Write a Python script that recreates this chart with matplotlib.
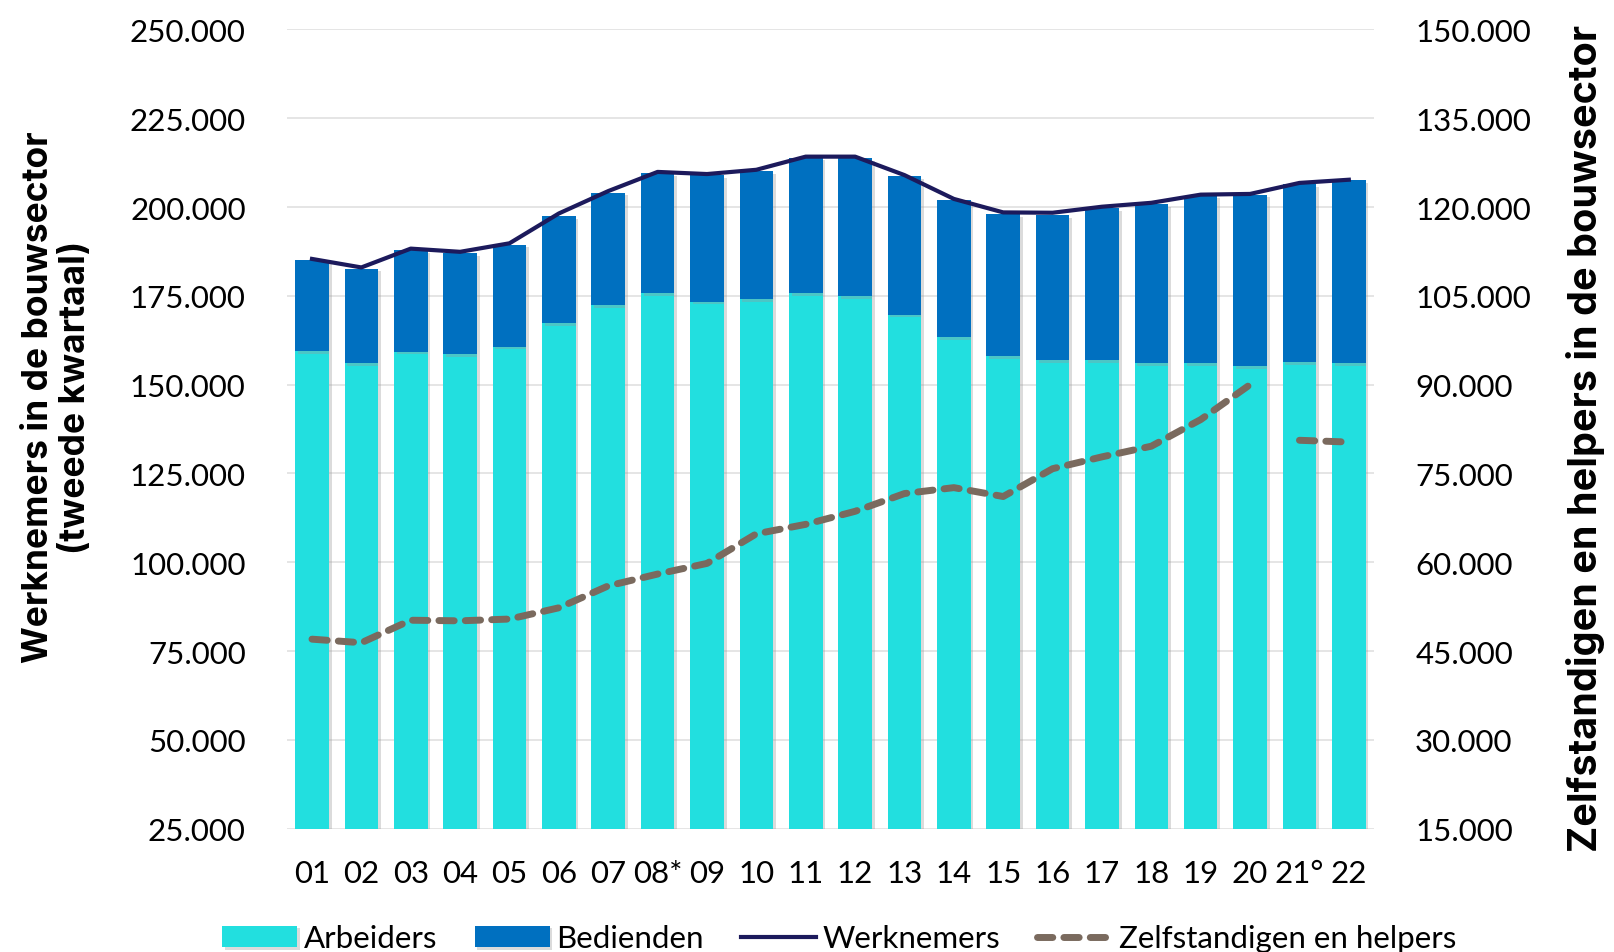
import numpy as np
import matplotlib.pyplot as plt
import matplotlib.patheffects as pe
from matplotlib.ticker import FuncFormatter

plt.rcParams['font.family'] = ['Lato', 'DejaVu Sans']

# Data
jaren = ['01', '02', '03', '04', '05', '06', '07', '08*', '09', '10', '11',
         '12', '13', '14', '15', '16', '17', '18', '19', '20', '21°', '22']
arbeiders = [159500, 156000, 159300, 158700, 160700, 167400, 172300, 175800,
             173400, 174000, 175800, 174900, 169700, 163300, 158100, 156900,
             156900, 156000, 156000, 155200, 156300, 156000]
totaal = [185000, 182700, 187900, 187000, 189400, 197500, 204100, 209600,
          208900, 210200, 213900, 213700, 208700, 202100, 198000, 197700,
          199800, 200900, 203200, 203500, 206400, 207600]
bedienden = [t - a for t, a in zip(totaal, arbeiders)]
werknemers = [185400, 183000, 188300, 187400, 189800, 198200, 204500, 209900,
              209300, 210500, 214200, 214200, 209000, 202300, 198500, 198400,
              200100, 201200, 203500, 203700, 206800, 207700]
zelfstandigen = [47000, 46400, 50200, 50100, 50400, 52300, 56000, 58000,
                 59800, 64800, 66400, 68600, 71600, 72600, 71100, 75800,
                 77800, 79600, 84100, 90000, np.nan, np.nan]
zelf_21_22 = [np.nan] * 20 + [80600, 80300]

c_arb = '#22DFDF'
c_bed = '#0070C0'
c_wn = '#1C1A5C'
c_zelf = '#7A6A5E'

fig = plt.figure(figsize=(16.14, 9.53), dpi=100)
ax = fig.add_axes([0.178, 0.1295, 0.673, 0.8385])
ax2 = ax.twinx()

x = np.arange(len(jaren))
shadow = [pe.SimplePatchShadow(offset=(2, -2), shadow_rgbFace='#999999', alpha=0.35), pe.Normal()]
b1 = ax.bar(x, arbeiders, width=0.68, bottom=0, color=c_arb, label='Arbeiders', zorder=2)
b2 = ax.bar(x, bedienden, width=0.68, bottom=arbeiders, color=c_bed, label='Bedienden', zorder=2)
for bar in list(b1) + list(b2):
    bar.set_path_effects(shadow)
l1, = ax.plot(x, werknemers, color=c_wn, lw=3, label='Werknemers', zorder=3)

l2, = ax2.plot(x, zelfstandigen, color=c_zelf, lw=5, ls=(0, (2.2, 1.6)),
               dash_capstyle='round', label='Zelfstandigen en helpers', zorder=3)
ax2.plot(x, zelf_21_22, color=c_zelf, lw=5, ls=(0, (2.2, 1.6)), dash_capstyle='round', zorder=3)

ax.set_ylim(25000, 250000)
ax.set_yticks(np.arange(25000, 250001, 25000))
ax2.set_ylim(15000, 150000)
ax2.set_yticks(np.arange(15000, 150001, 15000))
ax.set_xlim(-0.5, len(jaren) - 0.5)
ax.set_xticks(x)
ax.set_xticklabels(jaren)

fmt = FuncFormatter(lambda v, p: f'{int(v):,}'.replace(',', '.'))
ax.yaxis.set_major_formatter(fmt)
ax2.yaxis.set_major_formatter(fmt)

ax.grid(axis='y', color='#E0E0E0', lw=1.2, zorder=0)
ax.set_axisbelow(True)
for a in (ax, ax2):
    for s in a.spines.values():
        s.set_visible(False)
    a.tick_params(length=0, labelsize=22.5)
ax.tick_params(axis='y', pad=30)
ax2.tick_params(axis='y', pad=30)
ax.tick_params(axis='x', pad=22)

ax.set_ylabel('Werknemers in de bouwsector\n(tweede kwartaal)', fontsize=25.5,
              fontweight='bold', family=['Inter', 'DejaVu Sans'], linespacing=1.15)
ax.yaxis.set_label_coords(-0.18, 0.541)
ax2.set_ylabel('Zelfstandigen en helpers in de bouwsector', fontsize=28.5,
               fontweight='bold', family=['Inter', 'DejaVu Sans'], rotation=90)
ax2.yaxis.set_label_coords(1.177, 0.49)

fig.legend(handles=[b1, b2, l1, l2], loc='lower center', ncol=4, frameon=False,
           fontsize=22.5, bbox_to_anchor=(0.52, -0.03), handlelength=2.4,
           handletextpad=0.2, columnspacing=1.2)

fig.savefig('out.png', dpi=100)
